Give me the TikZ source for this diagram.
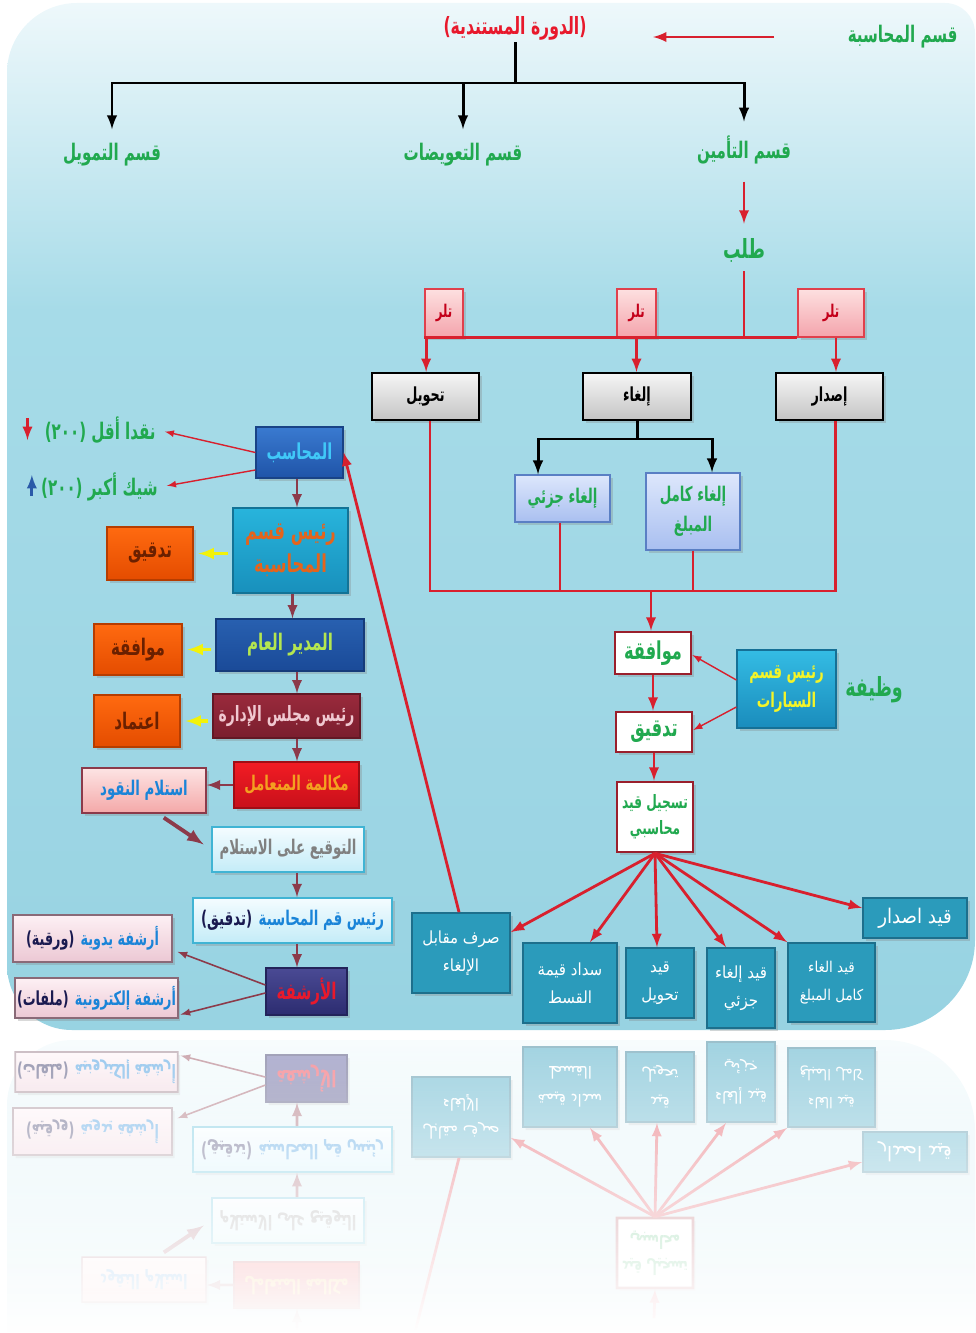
\documentclass[tikz,border=0pt]{standalone}
\usepackage{fontspec}
\usepackage{graphicx}
\usepackage{tikz}
\usetikzlibrary{shadows,fadings}
\newfontfamily\arabicfont[Script=Arabic]{DejaVu Sans}
\TeXXeTstate=1
\newcommand{\artxt}[1]{\scalebox{0.66}[1]{\arabicfont\bfseries\beginR #1\endR}}
\newcommand{\arthin}[1]{\scalebox{0.9}[1]{\arabicfont\beginR #1\endR}}

\definecolor{bgT}{HTML}{EEF8FB}
\definecolor{bgM}{HTML}{A6DBE8}
\definecolor{bgB}{HTML}{98D3E2}
\definecolor{grn}{HTML}{21A94F}
\definecolor{ttlRed}{HTML}{E8192C}
\definecolor{lnRed}{HTML}{D8202E}
\definecolor{dkRed}{HTML}{8C3A4A}
\definecolor{yel}{HTML}{F2F20A}
\definecolor{upBlue}{HTML}{2A5AA8}
\definecolor{tlrT}{HTML}{FDE0E0}
\definecolor{tlrB}{HTML}{F4A4AC}
\definecolor{tlrLine}{HTML}{E0404C}
\definecolor{tlrTxt}{HTML}{C4001A}
\definecolor{grT}{HTML}{F6F6F6}
\definecolor{grB}{HTML}{C4C4C4}
\definecolor{lavT}{HTML}{DDE7FC}
\definecolor{lavB}{HTML}{A9BFF0}
\definecolor{lavLine}{HTML}{5A7FC4}
\definecolor{wBorder}{HTML}{9A1F2C}
\definecolor{tealF}{HTML}{2B9BBB}
\definecolor{tealLine}{HTML}{1D6F8C}
\definecolor{carT}{HTML}{34BCE4}
\definecolor{carB}{HTML}{1A8CBC}
\definecolor{carTxt}{HTML}{F4F428}
\definecolor{accT}{HTML}{3A7AD0}
\definecolor{accB}{HTML}{1F54A8}
\definecolor{accTxt}{HTML}{40C8F8}
\definecolor{headT}{HTML}{28B4DC}
\definecolor{headB}{HTML}{1890BC}
\definecolor{headTxt}{HTML}{E4641C}
\definecolor{orT}{HTML}{FF6A10}
\definecolor{orB}{HTML}{E44C00}
\definecolor{orTxt}{HTML}{6A2000}
\definecolor{gmT}{HTML}{2860B0}
\definecolor{gmB}{HTML}{1A4A98}
\definecolor{gmTxt}{HTML}{B4E650}
\definecolor{chT}{HTML}{9A2A3C}
\definecolor{chB}{HTML}{7A1E2E}
\definecolor{chTxt}{HTML}{F0C8D0}
\definecolor{callT}{HTML}{F21C24}
\definecolor{callB}{HTML}{C8101A}
\definecolor{callTxt}{HTML}{F4A020}
\definecolor{pinkT}{HTML}{FDE4E4}
\definecolor{pinkB}{HTML}{F4A8A8}
\definecolor{txtBlue}{HTML}{1A84D8}
\definecolor{paleT}{HTML}{F4FCFF}
\definecolor{paleB}{HTML}{C4ECF8}
\definecolor{paleLine}{HTML}{40B4D4}
\definecolor{navyTxt}{HTML}{1A1A50}
\definecolor{arcT}{HTML}{4A4A94}
\definecolor{arcB}{HTML}{2C2C70}
\definecolor{roseT}{HTML}{FDF0F4}
\definecolor{roseB}{HTML}{ECC8D4}
\definecolor{roseLine}{HTML}{8A6A78}

\pgfdeclareverticalshading{panel}{100bp}{color(0bp)=(bgB); color(25bp)=(bgB); color(60bp)=(bgM); color(75bp)=(bgT); color(100bp)=(bgT)}
\tikzfading[name=fadedown, top color=transparent!100, bottom color=transparent!0]

\tikzset{> = latex, every picture/.style={line width=0.7pt},
  wh/.style 2 args={minimum width=#1*0.2mm, minimum height=#2*0.2mm, inner sep=1pt, align=center},
  shd/.style={drop shadow={opacity=0.3, shadow xshift=0.5mm, shadow yshift=-0.6mm}},
  ttl/.style={inner sep=1pt, font=\fontsize{13}{15}\selectfont},
  tlrbox/.style={shd, draw=tlrLine, top color=tlrT, bottom color=tlrB, line width=1pt, text=tlrTxt, font=\fontsize{10}{12}\selectfont},
  graybox/.style={shd, draw=black, top color=grT, bottom color=grB, line width=1.2pt, font=\fontsize{11}{13}\selectfont},
  lavbox/.style={shd, draw=lavLine, top color=lavT, bottom color=lavB, line width=0.8pt, text=grn, font=\fontsize{11.5}{17}\selectfont},
  whtbox/.style={shd, draw=wBorder, fill=white, line width=1.5pt, text=grn},
  tealbox/.style={shd, draw=tealLine, fill=tealF, line width=1pt, text=white, font=\fontsize{9.5}{16}\selectfont},
  orbox/.style={shd, draw=orB!80!black, top color=orT, bottom color=orB, line width=0.6pt, text=orTxt, font=\fontsize{13}{15}\selectfont},
  palebox/.style={shd, draw=paleLine, top color=paleT, bottom color=paleB, line width=1pt, font=\fontsize{11.5}{13}\selectfont},
  rosebox/.style={shd, draw=roseLine, top color=roseT, bottom color=roseB, line width=1pt, font=\fontsize{11}{13}\selectfont},
  redln/.style={draw=lnRed, line width=1.6pt},
  thinred/.style={draw=lnRed, line width=0.8pt},
  dkln/.style={draw=dkRed, line width=1.6pt},
  yelln/.style={draw=yel, line width=2pt, shorten <=0.8mm, shorten >=1mm},
  blk/.style={draw=black, line width=1.7pt}}

\newcommand{\drawpanel}{%
\shade[shading=panel] (7,73) .. controls (7,34.3) and (38.3,3) .. (77,3) -- (945,3)
  .. controls (961.6,3) and (975,16.4) .. (975,33) -- (975,940)
  .. controls (975,989.7) and (934.7,1030) .. (885,1030) -- (72,1030)
  .. controls (36.1,1030) and (7,1000.9) .. (7,965) -- cycle;
}

\newcommand{\drawlower}{%
% accounting entries
\node[whtbox, wh={76}{70}, font=\fontsize{10.5}{15}\selectfont] (record) at (655,817) {\artxt{تسجيل قيد}\\\artxt{محاسبي}};
\node[tealbox, wh={98}{80}] (pay) at (461,953) {\arthin{صرف مقابل}\\\arthin{الإلغاء}};
\node[tealbox, wh={94}{80}] (inst) at (570,983) {\arthin{سداد قيمة}\\\arthin{القسط}};
\node[tealbox, wh={68}{70}] (qTrans) at (660,983) {\arthin{قيد}\\\arthin{تحويل}};
\node[tealbox, wh={68}{80}] (qPart) at (741,988) {\arthin{قيد إلغاء}\\\arthin{جزئي}};
\node[tealbox, wh={87}{79}, font=\fontsize{8.5}{16}\selectfont] (qFull) at (831.5,982.5) {\arthin{قيد الغاء}\\\arthin{كامل المبلغ}};
\node[tealbox, wh={104}{40}, font=\fontsize{11.5}{13}\selectfont] (qIssue) at (915,918) {\arthin{قيد اصدار}};
\draw[redln, ->] (record.south) -- ([yshift=-4mm]pay.north east);
\draw[redln, ->] (record.south) -- ([xshift=4mm]inst.north);
\draw[redln, ->] (record.south) -- ([xshift=-0.6mm]qTrans.north);
\draw[redln, ->] (record.south) -- ([xshift=-3mm]qPart.north);
\draw[redln, ->] (record.south) -- (qFull.north west);
\draw[redln, ->] (record.south) -- ([yshift=2mm]qIssue.west);
% lower left column
\node[shd, wh={125}{46}, draw=callB!80!black, top color=callT, bottom color=callB, text=callTxt, font=\fontsize{11.5}{13}\selectfont] (call) at (296.5,785) {\artxt{مكالمة المتعامل}};
\node[shd, wh={124}{45}, draw=dkRed, top color=pinkT, bottom color=pinkB, line width=0.8pt, text=txtBlue, font=\fontsize{11.5}{13}\selectfont] (cash) at (144,790.5) {\artxt{استلام النقود}};
\node[palebox, wh={152}{45}, text=gray] (sign) at (288,849.5) {\artxt{التوقيع على الاستلام}};
\node[palebox, wh={199}{45}] (headchk) at (292.5,920.5) {{\color{navyTxt}\artxt{(تدقيق)}} {\color{txtBlue}\artxt{رئيس قم المحاسبة}}};
\node[shd, wh={81}{47}, draw=arcB!80!black, top color=arcT, bottom color=arcB, text=ttlRed, font=\fontsize{13}{15}\selectfont] (archive) at (306.5,991.5) {\artxt{الأرشفة}};
\node[rosebox, wh={159}{47}] (arcPaper) at (92.5,938.5) {{\color{navyTxt}\artxt{(ورقية)}} {\color{txtBlue}\artxt{أرشفة يدوية}}};
\node[rosebox, wh={157}{40}] (arcFile) at (96.5,998) {{\color{navyTxt}\artxt{(ملفات)}} {\color{txtBlue}\artxt{أرشفة إلكترونية}}};
\coordinate (col) at (297,0);
\draw[dkln, ->] (call.west) -- (call.west -| cash.east);
\draw[dkRed, line width=2.2pt, ->, shorten <=1.4mm, shorten >=1.8mm] ([xshift=2.8mm]cash.south) -- (sign.west);
\draw[dkln, ->] (sign.south -| col) -- (headchk.north -| col);
\draw[dkln, ->] (headchk.south -| col) -- (archive.north -| col);
\draw[dkRed, line width=0.9pt, ->, shorten >=1mm] ([yshift=1.3mm]archive.west) -- ([yshift=-2.3mm]arcPaper.east);
\draw[dkRed, line width=0.9pt, ->, shorten >=0.4mm] ([yshift=-0.3mm]archive.west) -- ([yshift=-3.4mm]arcFile.east);
}

\newcommand{\drawupper}{%
% heads of departments
\node[ttl, text=grn, anchor=east] (acct) at (960,37) {\artxt{قسم المحاسبة}};
\node[ttl, text=ttlRed, font=\fontsize{13.5}{15}\selectfont] (cycle) at (515,28) {\artxt{(الدورة المستندية)}};
\node[ttl, text=grn] (fin) at (112,155) {\artxt{قسم التمويل}};
\node[ttl, text=grn] (comp) at (463,155) {\artxt{قسم التعويضات}};
\node[ttl, text=grn] (ins) at (744,150) {\artxt{قسم التأمين}};
\node[ttl, text=grn, font=\fontsize{15}{17}\selectfont] (req) at (744,250) {\artxt{طلب}};
\coordinate (aS) at (774,37);
\coordinate (aE) at (653,37);
\coordinate (hub) at (515,83);
\draw[redln, ->] (aS) -- (aE);
\draw[blk] (cycle.south) -- (hub);
\draw[blk, ->, shorten >=2.4mm] (hub) -| (fin.north);
\draw[blk, ->, shorten >=2.4mm] (hub) -| (ins.north);
\draw[blk, ->, shorten >=2.4mm] (hub -| comp) -- (comp.north);
\draw[redln, ->, shorten <=3mm, shorten >=2.4mm] (ins.south) -- (req.north);
% tellers and operations
\node[tlrbox, wh={38}{48}] (tlrA) at (444,313) {\artxt{تلر}};
\node[tlrbox, wh={39}{48}] (tlrB) at (636.5,313) {\artxt{تلر}};
\node[tlrbox, wh={66}{48}] (tlrC) at (831,313) {\artxt{تلر}};
\draw[redln, shorten <=1.4mm] (req.south) -- (req.south |- tlrA.south);
\draw[redln] (tlrA.south west) -- (tlrC.south west);
\node[graybox, wh={107}{47}] (trans) at (425.5,396.5) {\artxt{تحويل}};
\node[graybox, wh={108}{47}] (cancel) at (637,396.5) {\artxt{إلغاء}};
\node[graybox, wh={107}{47}] (issue) at (829.5,396.5) {\artxt{إصدار}};
\draw[redln, ->] ([xshift=0.4mm]tlrA.south west) -- ([xshift=0.4mm]tlrA.south west |- trans.north);
\draw[redln, ->] (tlrB.south) -- (tlrB.south |- cancel.north);
\draw[redln, ->] ([xshift=1mm]tlrC.south) -- ([xshift=1mm]tlrC.south |- issue.north);
\node[lavbox, wh={95}{47}] (partial) at (562.5,498.5) {\artxt{إلغاء جزئي}};
\node[lavbox, wh={94}{77}] (full) at (693,511.5) {\artxt{إلغاء كامل}\\\artxt{المبلغ}};
\coordinate (cj) at (637,439);
\draw[blk] (cancel.south) -- (cj);
\draw[blk, ->] (cj) -| ([xshift=-4.9mm]partial.north);
\draw[blk, ->] (cj) -| ([xshift=3.8mm]full.north);
% approval chain
\node[whtbox, wh={76}{42}, font=\fontsize{14}{16}\selectfont] (approve) at (653,653) {\artxt{موافقة}};
\node[whtbox, wh={76}{40}, font=\fontsize{14}{16}\selectfont] (audit) at (654,732) {\artxt{تدقيق}};
\node[shd, wh={99}{78}, draw=carB!80!black, top color=carT, bottom color=carB, text=carTxt, font=\fontsize{11.5}{16}\selectfont] (carhead) at (786.5,689) {\artxt{رئيس قسم}\\\artxt{السيارات}};
\node[ttl, text=grn, font=\fontsize{15}{17}\selectfont, anchor=west] (job) at (843,690) {\artxt{وظيفة}};
\coordinate (bus) at (651,591);
\draw[redln] ([xshift=0.9mm]trans.south) -- ([xshift=0.9mm]trans.south |- bus) -- ([xshift=1.2mm]issue.south |- bus) -- ([xshift=1.2mm]issue.south);
\draw[redln] ([xshift=-0.5mm]partial.south) -- ([xshift=-0.5mm]partial.south |- bus);
\draw[redln] (full.south) -- (full.south |- bus);
\draw[redln, ->] (bus) -- (bus |- approve.north);
\draw[redln, ->] (approve.south) -- (approve.south |- audit.north);
\draw[redln, ->] (audit.south) -- (audit.south |- record.north);
\draw[thinred, ->] ([yshift=1.8mm]carhead.west) -- ([yshift=-0.4mm]approve.east);
\draw[thinred, ->] ([yshift=-3.6mm]carhead.west) -- ([yshift=0.4mm]audit.east);
% upper left column
\node[shd, wh={87}{51}, draw=accB!80!black, top color=accT, bottom color=accB, text=accTxt, font=\fontsize{12.5}{14}\selectfont] (accountant) at (299.5,452.5) {\artxt{المحاسب}};
\node[ttl, text=grn, anchor=east] (less) at (158,430) {\artxt{نقدا أقل (٢٠٠)}};
\node[ttl, text=grn, anchor=east] (more) at (160,487) {\artxt{شيك أكبر (٢٠٠)}};
\draw[redln, ->] ([xshift=-3mm, yshift=2.4mm]less.west) -- ([xshift=-3mm, yshift=-2mm]less.west);
\draw[draw=upBlue, line width=1.6pt, ->] ([xshift=-1.4mm, yshift=-1.8mm]more.west) -- ([xshift=-1.4mm, yshift=2.4mm]more.west);
\draw[thinred, ->, shorten >=1.4mm] (accountant.west) -- (less.east);
\draw[thinred, ->, shorten >=1.4mm] ([yshift=-3.5mm]accountant.west) -- (more.east);
\draw[redln, ->] ([xshift=-0.4mm]pay.north) -- (accountant.east);
\node[shd, wh={115}{85}, draw=headB!80!black, top color=headT, bottom color=headB, text=headTxt, font=\fontsize{14}{19}\selectfont] (head) at (290.5,550.5) {\artxt{رئيس قسم}\\\artxt{المحاسبة}};
\node[orbox, wh={86}{53}] (chkA) at (150,553.5) {\artxt{تدقيق}};
\node[shd, wh={148}{52}, draw=gmB!80!black, top color=gmT, bottom color=gmB, text=gmTxt, font=\fontsize{13}{15}\selectfont] (gm) at (290,645) {\artxt{المدير العام}};
\node[orbox, wh={88}{51}] (okA) at (138,649.5) {\artxt{موافقة}};
\node[shd, wh={147}{44}, draw=chB!80!black, top color=chT, bottom color=chB, text=chTxt, font=\fontsize{12}{14}\selectfont] (chair) at (286.5,716) {\artxt{رئيس مجلس الإدارة}};
\node[orbox, wh={86}{52}] (apprA) at (137,721) {\artxt{اعتماد}};
\draw[dkln, ->] (accountant.south -| col) -- (head.north -| col);
\draw[dkln, ->] ([xshift=0.4mm]head.south) -- ([xshift=0.4mm]head.south |- gm.north);
\draw[dkln, ->] (gm.south -| col) -- (chair.north -| col);
\draw[dkln, ->] (chair.south -| col) -- (call.north -| col);
\draw[yelln, ->] (chkA.east -| head.west) -- (chkA.east);
\draw[yelln, ->] (okA.east -| gm.west) -- (okA.east);
\draw[yelln, ->] (apprA.east -| chair.west) -- (apprA.east);
}

\begin{document}
\begin{tikzpicture}[x=0.2mm, y=-0.2mm]
\useasboundingbox (0,0) rectangle (975,1333);
\drawpanel
\drawlower
\drawupper
% mirrored copy under the panel
\begin{scope}[transparency group, opacity=0.45]
\clip (0,1035) rectangle (975,1333);
\begin{scope}[yshift=-414mm, yscale=-1, transform shape]
\drawpanel
\drawlower
\coordinate (accE) at (343,452.5);
\coordinate (audS) at (654,752);
\coordinate (chairS) at (297,738);
\draw[redln, ->] ([xshift=-0.4mm]pay.north) -- (accE);
\draw[redln, ->] (audS) -- (record.north);
\draw[dkln, ->] (chairS) -- (call.north -| col);
\end{scope}
\end{scope}
\fill[white, path fading=fadedown] (0,1035) rectangle (975,1333);
\end{tikzpicture}
\end{document}
